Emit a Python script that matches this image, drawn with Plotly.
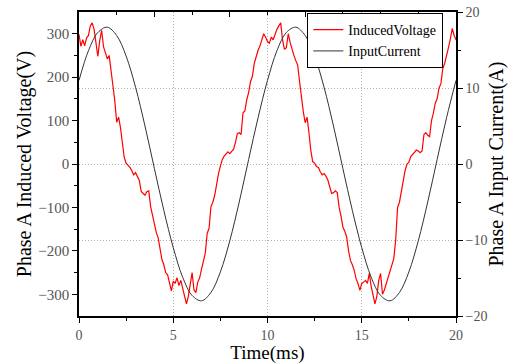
import plotly.graph_objects as go

# ---------------- data ----------------
time_v = [round(i * 0.1, 1) for i in range(201)]
voltage = [
    298, 271, 286, 272, 290, 296, 318, 325, 310, 279,
    248, 284, 308, 270, 258, 242, 250, 217, 176, 145,
    96, 108, 84, 50, 15, 2, -2, -8, -15, -25,
    -20, -28, -38, -63, -68, -72, -64, -62, -98, -118,
    -142, -158, -170, -195, -220, -232, -250, -255, -272, -292,
    -270, -275, -262, -280, -268, -288, -300, -322, -305, -275,
    -250, -290, -296, -272, -262, -242, -225, -205, -160, -148,
    -98, -88, -72, -44, -22, -5, 10, 18, 24, 28,
    24, 30, 34, 50, 70, 72, 68, 118, 122, 148,
    165, 190, 202, 232, 248, 262, 272, 288, 300, 292,
    282, 278, 292, 286, 300, 310, 318, 325, 285, 264,
    268, 300, 280, 262, 250, 238, 228, 190, 148, 120,
    95, 108, 72, 30, 5, 2, -6, -8, -18, -25,
    -22, -28, -37, -55, -68, -66, -62, -66, -100, -120,
    -145, -155, -168, -200, -222, -232, -245, -264, -275, -291,
    -275, -272, -268, -275, -252, -282, -306, -322, -305, -268,
    -252, -300, -290, -275, -258, -245, -230, -218, -175, -100,
    -88, -62, -40, -15, 0, 4, 17, 22, 28, 32,
    30, 26, 30, 68, 72, 66, 63, 100, 117, 140,
    150, 175, 185, 220, 232, 248, 268, 288, 312, 296,
    286,
]

time_i = [round(i * 0.5, 1) for i in range(41)]
current = [
    11.0, 14.9, 17.3, 18.0, 16.9, 14.2, 10.1, 5.0, -0.6, -6.1,
    -11.0, -14.9, -17.3, -18.0, -16.9, -14.2, -10.1, -5.0, 0.6, 6.1,
    11.0, 14.9, 17.3, 18.0, 16.9, 14.2, 10.1, 5.0, -0.6, -6.1,
    -11.0, -14.9, -17.3, -18.0, -16.9, -14.2, -10.1, -5.0, 0.6, 6.1,
    11.0,
]

series_names = ["InducedVoltage", "InputCurrent"]
x_title = "Time(ms)"
y_left_title = "Phase A Induced Voltage(V)"
y_right_title = "Phase A Input Current(A)"

# ---------------- figure ----------------
FONT = "Liberation Serif"
TICKC = "#555555"
GRIDC = "#b0b0b0"

fig = go.Figure()
fig.add_trace(go.Scatter(
    x=time_v, y=voltage, name=series_names[0], mode="lines",
    line=dict(color="#ff0000", width=1.2), xaxis="x", yaxis="y",
))
fig.add_trace(go.Scatter(
    x=time_i, y=current, name=series_names[1], mode="lines",
    line=dict(color="#333333", width=1, shape="spline", smoothing=1.0),
    xaxis="x2", yaxis="y2",
))

fig.update_layout(
    width=508, height=364,
    margin=dict(l=79, r=52, t=12, b=48, autoexpand=False),
    paper_bgcolor="white", plot_bgcolor="white",
    font=dict(family=FONT, size=15, color=TICKC),
    showlegend=True,
    legend=dict(
        x=0.605, y=0.997, xanchor="left", yanchor="top",
        bgcolor="white", bordercolor="black", borderwidth=1.2,
        font=dict(family=FONT, size=14, color="black"),
        itemwidth=30, tracegroupgap=0,
    ),
    xaxis=dict(
        range=[0, 20], tickvals=[0, 5, 10, 15, 20],
        ticks="outside", ticklen=5, tickwidth=1, tickcolor="black",
        minor=dict(tickvals=[2.5, 7.5, 12.5, 17.5], ticks="outside", ticklen=3, tickcolor="black"),
        showline=True, linecolor="black", linewidth=1.5,
        showgrid=True, gridcolor=GRIDC, griddash="1px,2px", gridwidth=1,
        zeroline=False, automargin=False,
        title=dict(text=x_title, font=dict(family=FONT, size=19, color="black"), standoff=14),
        tickfont=dict(family=FONT, size=14, color=TICKC),
    ),
    xaxis2=dict(
        range=[0, 20], overlaying="x", side="top", anchor="y2",
        tickvals=[0, 4, 8, 12, 16, 20], ticks="inside", ticklen=5, tickcolor="black",
        minor=dict(tickvals=[2, 6, 10, 14, 18], ticks="inside", ticklen=3, tickcolor="black"),
        showticklabels=False, showline=True, linecolor="black", linewidth=1.5,
        showgrid=False, zeroline=False, automargin=False,
    ),
    yaxis=dict(
        range=[-350, 350], tickvals=[-300, -200, -100, 0, 100, 200, 300],
        ticktext=["\u2212300", "\u2212200", "\u2212100", "0", "100", "200", "300"],
        ticks="outside", ticklen=5, tickcolor="black",
        minor=dict(tickvals=[-250, -150, -50, 50, 150, 250], ticks="outside", ticklen=3, tickcolor="black"),
        showline=True, linecolor="black", linewidth=1.5,
        showgrid=False, zeroline=False, automargin=False,
        title=dict(text=y_left_title, font=dict(family=FONT, size=20, color="black"), standoff=1),
        tickfont=dict(family=FONT, size=15, color=TICKC),
    ),
    yaxis2=dict(
        range=[-20, 20], overlaying="y", side="right", anchor="x2",
        tickvals=[-20, -10, 0, 10, 20],
        ticktext=["\u221220", "\u221210", "0", "10", "20"],
        ticks="outside", ticklen=5, tickcolor="black",
        minor=dict(tickvals=[-15, -5, 5, 15], ticks="outside", ticklen=3, tickcolor="black"),
        showline=True, linecolor="black", linewidth=1.5,
        showgrid=True, gridcolor=GRIDC, griddash="1px,2px", gridwidth=1,
        zeroline=False, automargin=False,
        title=dict(text=y_right_title, font=dict(family=FONT, size=20, color="black"), standoff=8),
        tickfont=dict(family=FONT, size=14, color=TICKC),
    ),
)

fig.write_html("out.html")
